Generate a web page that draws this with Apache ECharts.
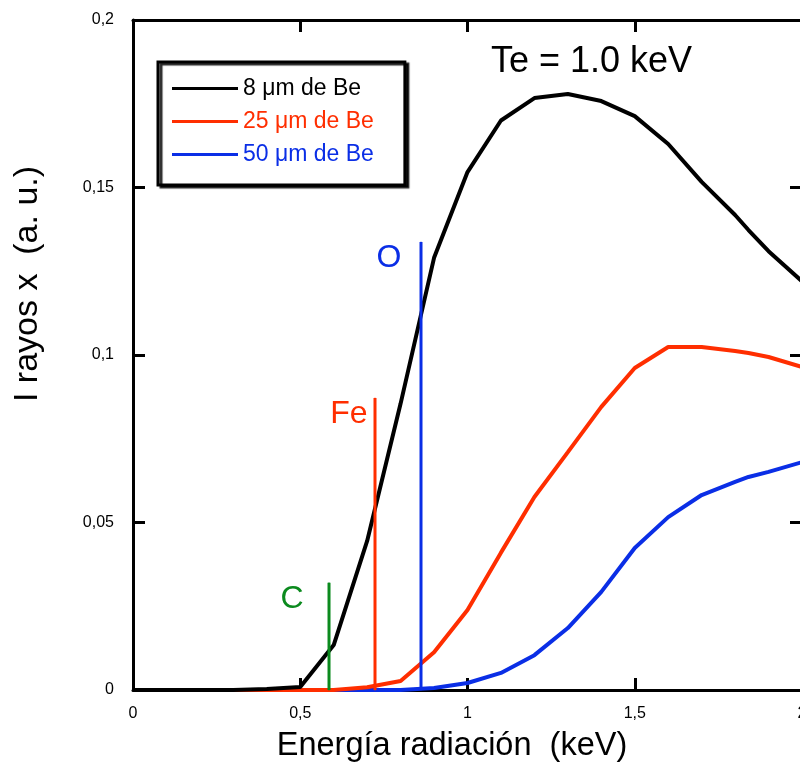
<!DOCTYPE html>
<html>
<head>
<meta charset="utf-8">
<script src="https://cdn.jsdelivr.net/npm/echarts@6/dist/echarts.min.js"></script>
<style>
  html, body { margin: 0; padding: 0; background: #fff; }
  #chart { width: 800px; height: 765px; }
</style>
</head>
<body>
<div id="chart"></div>
<script>
// data
var energy = [0, 0.1, 0.2, 0.3, 0.4, 0.5, 0.6, 0.7, 0.8, 0.9, 1.0, 1.1, 1.2, 1.3, 1.4, 1.5, 1.6, 1.7, 1.8, 1.84, 1.9, 2.0];
var be8  = [0, 0, 0, 0, 0.0003, 0.0009, 0.0134, 0.0445, 0.0855, 0.129, 0.1546, 0.170, 0.1767, 0.1779, 0.1758, 0.1713, 0.163, 0.1517, 0.1418, 0.1373, 0.131, 0.122];
var be25 = [0, 0, 0, 0, 0, 0, 0, 0.0008, 0.0027, 0.0113, 0.0239, 0.041, 0.0576, 0.071, 0.0845, 0.0961, 0.1024, 0.1024, 0.1012, 0.1006, 0.0994, 0.0964];
var be50 = [0, 0, 0, 0, 0, 0, 0, 0, 0, 0.0006, 0.0021, 0.0051, 0.0104, 0.0185, 0.0293, 0.0424, 0.0516, 0.0582, 0.0621, 0.0636, 0.0651, 0.068];

var seriesNames = ['8 μm de Be', '25 μm de Be', '50 μm de Be'];

// absorption edges
var edgeNames = ['C', 'Fe', 'O'];
var edgeEnergy = [0.586, 0.7235, 0.861];
var edgeHeight = [0.032, 0.0872, 0.1337];

var xTickLabels = ['0', '0,5', '1', '1,5', '2'];
var yTickLabels = ['0', '0,05', '0,1', '0,15', '0,2'];

var font = 'Liberation Sans, Arial, Helvetica, sans-serif';
var black = '#000000';
var red = '#ff2e00';
var blue = '#0a2ee6';
var green = '#0b8a1e';

function pairs(xs, ys) {
  return xs.map(function(x, i) { return [x, ys[i]]; });
}

var chart = echarts.init(document.getElementById('chart'), null, { renderer: 'canvas' });

var axisLine = { show: true, onZero: false, lineStyle: { color: black, width: 3 } };
var axisTick = { show: true, inside: true, length: 12, lineStyle: { color: black, width: 3 } };

var curveColors = [black, red, blue];
var curveData = [be8, be25, be50];
var edgeColors = [green, red, blue];
var edgeLabelDx = [25, 7, 19];

var series = curveData.map(function(ys, i) {
  return {
    name: seriesNames[i],
    type: 'line',
    data: pairs(energy, ys),
    symbol: 'none',
    lineStyle: { color: curveColors[i], width: 4 },
    itemStyle: { color: curveColors[i] },
    z: 3
  };
}).reverse();

edgeNames.forEach(function(name, i) {
  series.push({
    name: 'edge-' + name,
    type: 'line',
    symbol: 'circle',
    symbolSize: 1,
    lineStyle: { color: edgeColors[i], width: 3 },
    itemStyle: { color: edgeColors[i] },
    z: 4,
    data: [
      [edgeEnergy[i], 0],
      {
        value: [edgeEnergy[i], edgeHeight[i]],
        label: {
          show: true,
          formatter: name,
          position: [-edgeLabelDx[i], 1],
          align: 'right',
          verticalAlign: 'top',
          color: edgeColors[i],
          fontSize: 32,
          fontFamily: font
        }
      }
    ]
  });
});

chart.setOption({
  animation: false,
  title: {
    text: 'Te = 1.0 keV',
    left: 491,
    top: 44,
    padding: 0,
    textStyle: { color: black, fontSize: 36, fontWeight: 'normal', fontFamily: font }
  },
  legend: {
    left: 158,
    top: 62,
    orient: 'vertical',
    selectedMode: false,
    padding: [15, 31, 19, 14],
    backgroundColor: '#fff',
    borderColor: black,
    borderWidth: 3,
    shadowColor: 'rgba(0,0,0,0.85)',
    shadowBlur: 1,
    shadowOffsetX: 3,
    shadowOffsetY: 2,
    icon: 'rect',
    itemWidth: 66,
    itemHeight: 3,
    itemGap: 10,
    textStyle: { fontSize: 23, lineHeight: 22, fontFamily: font },
    data: seriesNames.map(function(n, i) {
      return { name: n, textStyle: { color: curveColors[i] } };
    })
  },
  grid: { left: 133, right: -2, top: 20, bottom: 75, containLabel: false, outerBoundsMode: 'none' },
  xAxis: [
    {
      type: 'value', min: 0, max: 2, interval: 0.5, position: 'bottom',
      axisLine: axisLine, axisTick: axisTick, splitLine: { show: false },
      axisLabel: {
        margin: 16, color: black, fontSize: 16, fontFamily: font,
        formatter: function(v, idx) { return xTickLabels[Math.round(v / 0.5)]; }
      },
      name: 'Energía radiación  (keV)',
      nameLocation: 'middle',
      nameGap: 40,
      nameTextStyle: { color: black, fontSize: 32.5, fontFamily: font, padding: [0, 31, 0, 0] }
    },
    {
      type: 'value', min: 0, max: 2, interval: 0.5, position: 'top',
      axisLine: axisLine, axisTick: axisTick, splitLine: { show: false },
      axisLabel: { show: false }
    }
  ],
  yAxis: [
    {
      type: 'value', min: 0, max: 0.2, interval: 0.05, position: 'left',
      axisLine: axisLine, axisTick: axisTick, splitLine: { show: false },
      axisLabel: {
        margin: 19, color: black, fontSize: 16, fontFamily: font, padding: [0, 0, 5, 0],
        formatter: function(v) { return yTickLabels[Math.round(v / 0.05)]; }
      },
      name: 'I rayos x  (a. u.)',
      nameLocation: 'middle',
      nameGap: 88,
      nameRotate: 90,
      nameTextStyle: { color: black, fontSize: 34, fontFamily: font, padding: [0, 0, 0, 142] }
    },
    {
      type: 'value', min: 0, max: 0.2, interval: 0.05, position: 'right',
      axisLine: axisLine, axisTick: axisTick, splitLine: { show: false },
      axisLabel: { show: false }
    }
  ],
  series: series
});

window.addEventListener('resize', function() { chart.resize(); });
</script>
</body>
</html>
